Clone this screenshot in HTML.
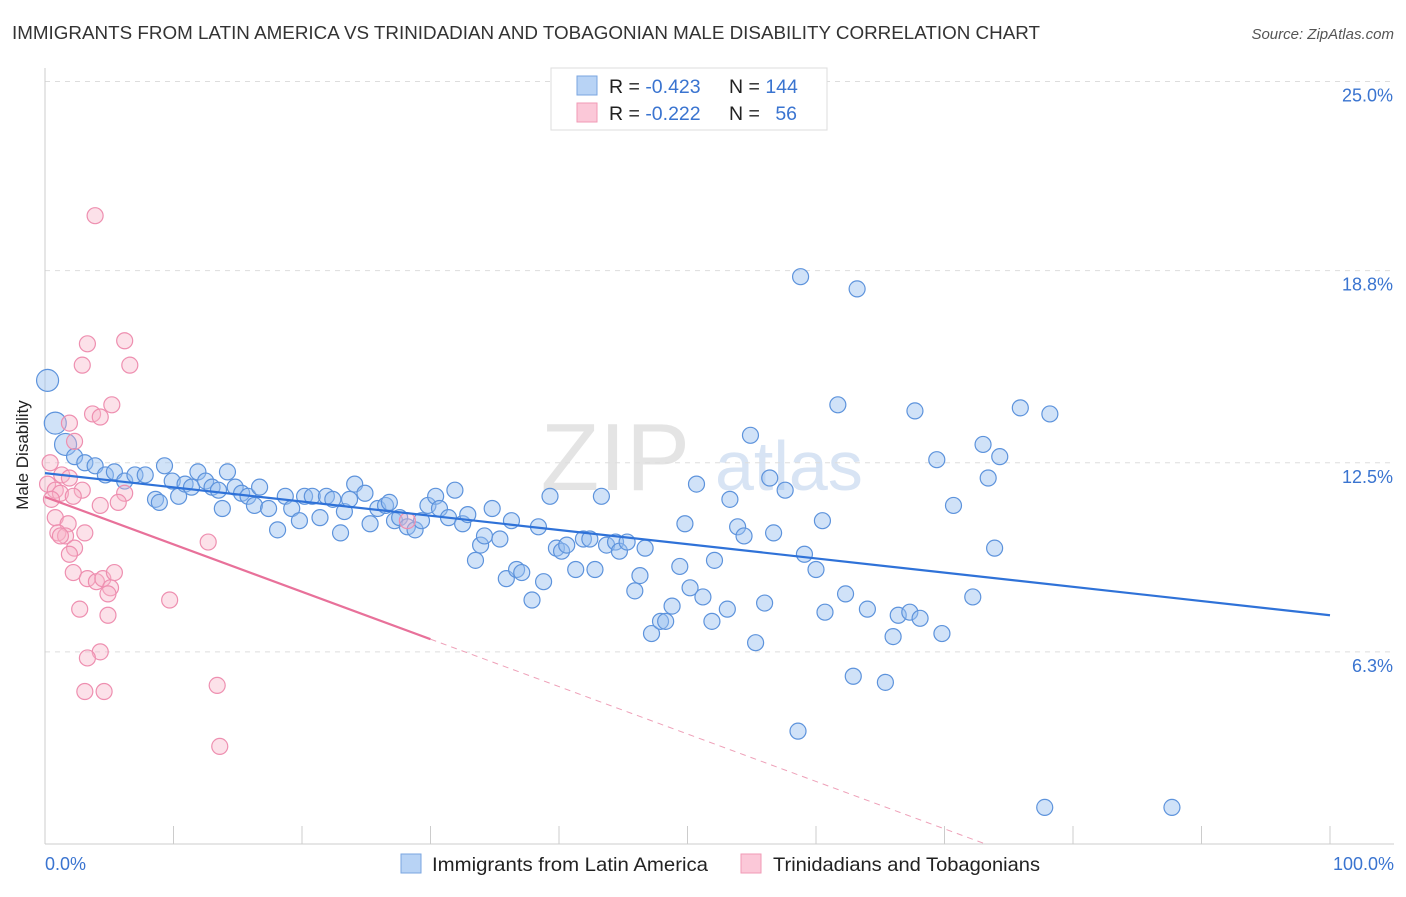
<!DOCTYPE html>
<html><head><meta charset="utf-8"><style>
body{margin:0;background:#fff;font-family:"Liberation Sans",sans-serif;}
svg text{font-family:"Liberation Sans",sans-serif;}
</style></head><body>
<svg id="chart" width="1406" height="892">
<text x="12" y="39" font-size="18.5" fill="#333" textLength="1028" lengthAdjust="spacingAndGlyphs">IMMIGRANTS FROM LATIN AMERICA VS TRINIDADIAN AND TOBAGONIAN MALE DISABILITY CORRELATION CHART</text>
<text x="1394" y="39" font-size="15" fill="#555" font-style="italic" text-anchor="end">Source: ZipAtlas.com</text>
<text x="690" y="490" font-size="96" fill="#e4e4e4" text-anchor="end" font-family="Liberation Serif">ZIP</text>
<text x="715" y="490" font-size="70" fill="#d8e4f4">atlas</text>
<g id="grid"></g><g id="axes"></g><g id="marks"></g>
<text x="28" y="455" font-size="17" fill="#222" transform="rotate(-90 28 455)" text-anchor="middle">Male Disability</text>
<text x="45" y="870" font-size="18" fill="#3a74d0">0.0%</text>
<text x="1394" y="870" font-size="18" fill="#3a74d0" text-anchor="end">100.0%</text>
<g>
<rect x="551" y="68" width="276" height="62" fill="#fff" stroke="#ddd"/>
<rect x="577" y="76" width="20" height="19" fill="#b8d3f5" stroke="#7aa6e0"/>
<rect x="577" y="103" width="20" height="19" fill="#fbc8d8" stroke="#f09ab6"/>
<text x="609" y="93" font-size="19.5" fill="#222">R = <tspan fill="#3a74d0">-0.423</tspan></text>
<text x="729" y="93" font-size="19.5" fill="#222">N = <tspan fill="#3a74d0">144</tspan></text>
<text x="609" y="120" font-size="19.5" fill="#222">R = <tspan fill="#3a74d0">-0.222</tspan></text>
<text x="729" y="120" font-size="19.5" fill="#222">N = <tspan fill="#3a74d0" dx="10">56</tspan></text>
</g>
<g>
<rect x="401" y="854" width="20" height="19" fill="#b8d3f5" stroke="#7aa6e0"/>
<text x="432" y="871" font-size="19.5" fill="#222" textLength="276" lengthAdjust="spacingAndGlyphs">Immigrants from Latin America</text>
<rect x="741" y="854" width="20" height="19" fill="#fbc8d8" stroke="#f09ab6"/>
<text x="773" y="871" font-size="19.5" fill="#222" textLength="267" lengthAdjust="spacingAndGlyphs">Trinidadians and Tobagonians</text>
</g>
</svg>
<script>
const yTicks=[6.3,12.5,18.8,25.0];
const yTickLabels=["6.3%","12.5%","18.8%","25.0%"];
const blueX=[0.2,0.8,1.6,2.3,3.1,3.9,4.7,5.4,6.2,7.0,7.8,8.6,8.9,9.3,9.9,10.4,10.9,11.4,11.9,12.5,13.0,13.5,13.8,14.2,14.8,15.3,15.8,16.3,16.7,17.4,18.1,18.7,19.2,19.8,20.2,20.8,21.4,21.9,22.4,23.0,23.3,23.7,24.1,24.9,25.3,25.9,26.5,26.8,27.2,27.6,28.2,28.8,29.3,29.8,30.4,30.7,31.4,31.9,32.5,32.9,33.5,33.9,34.2,34.8,35.4,35.9,36.3,36.7,37.1,37.9,38.4,38.8,39.3,39.8,40.2,40.6,41.3,41.9,42.4,42.8,43.3,43.7,44.4,44.7,45.3,45.9,46.3,46.7,47.2,47.9,48.3,48.8,49.4,49.8,50.2,50.7,51.2,51.9,52.1,53.1,53.3,53.9,54.4,54.9,55.3,56.0,56.4,56.7,57.6,58.6,58.8,59.1,60.0,60.5,60.7,61.7,62.3,62.9,63.2,64.0,65.4,66.0,66.4,67.3,67.7,68.1,69.4,69.8,70.7,72.2,73.0,73.4,73.9,74.3,75.9,77.8,78.2,87.7];
const blueY=[15.2,13.8,13.1,12.7,12.5,12.4,12.1,12.2,11.9,12.1,12.1,11.3,11.2,12.4,11.9,11.4,11.8,11.7,12.2,11.9,11.7,11.6,11.0,12.2,11.7,11.5,11.4,11.1,11.7,11.0,10.3,11.4,11.0,10.6,11.4,11.4,10.7,11.4,11.3,10.2,10.9,11.3,11.8,11.5,10.5,11.0,11.1,11.2,10.6,10.7,10.4,10.3,10.6,11.1,11.4,11.0,10.7,11.6,10.5,10.8,9.3,9.8,10.1,11.0,10.0,8.7,10.6,9.0,8.9,8.0,10.4,8.6,11.4,9.7,9.6,9.8,9.0,10.0,10.0,9.0,11.4,9.8,9.9,9.6,9.9,8.3,8.8,9.7,6.9,7.3,7.3,7.8,9.1,10.5,8.4,11.8,8.1,7.3,9.3,7.7,11.3,10.4,10.1,13.4,6.6,7.9,12.0,10.2,11.6,3.7,18.6,9.5,9.0,10.6,7.6,14.4,8.2,5.5,18.2,7.7,5.3,6.8,7.5,7.6,14.2,7.4,12.6,6.9,11.1,8.1,13.1,12.0,9.7,12.7,14.3,1.2,14.1,1.2];
const pinkX=[3.9,6.2,3.3,6.6,2.9,5.2,3.7,4.3,1.9,2.3,0.4,1.3,1.9,0.2,0.8,1.2,0.5,2.9,2.2,6.2,5.7,4.3,0.8,1.8,1.0,1.6,3.1,1.2,2.3,1.9,12.7,2.2,3.3,4.0,4.5,5.4,5.1,4.9,9.7,2.7,4.9,4.3,3.3,3.1,4.6,13.4,13.6,28.2];
const pinkY=[20.6,16.5,16.4,15.7,15.7,14.4,14.1,14.0,13.8,13.2,12.5,12.1,12.0,11.8,11.6,11.5,11.3,11.6,11.4,11.5,11.2,11.1,10.7,10.5,10.2,10.1,10.2,10.1,9.7,9.5,9.9,8.9,8.7,8.6,8.7,8.9,8.4,8.2,8.0,7.7,7.5,6.3,6.1,5.0,5.0,5.2,3.2,10.6];
const blueTrend=[12.16,7.5];
const pinkTrend=[11.38,0.03];
const pinkSolidEnd=30;
const pinkDashEnd=73;
const NS="http://www.w3.org/2000/svg";
const xs=v=>45+v*12.85, ys=v=>844-v*30.5;
function mk(tag,attrs,parent){const e=document.createElementNS(NS,tag);for(const k in attrs)e.setAttribute(k,attrs[k]);document.getElementById(parent).appendChild(e);return e;}
yTicks.forEach((t,i)=>{
 const g=mk('line',{x1:45,x2:1394,y1:ys(t),y2:ys(t),stroke:'#ddd','stroke-dasharray':'5,5'},'grid');
 
 
 const tx=mk('text',{x:1393,y:ys(t)+20,'font-size':18,fill:'#3a74d0','text-anchor':'end'},'grid');
 tx.textContent=yTickLabels[i];
 
 
});
const ax=mk('line',{x1:45,x2:45,y1:68,y2:844,stroke:'#ccc'},'axes');


const bx=mk('line',{x1:45,x2:1394,y1:844,y2:844,stroke:'#ccc'},'axes');


for(let i=0;i<=10;i++){
 const t=mk('line',{x1:xs(i*10),x2:xs(i*10),y1:826,y2:844,stroke:'#ccc'},'axes');
 
 
}
blueX.forEach((x,i)=>{
 const big=i<3;
 const c=mk('circle',{cx:xs(x),cy:ys(blueY[i]),r:big?11:8,fill:'rgba(150,190,240,0.45)',stroke:'#5d93dc','stroke-width':1.2},'marks');
 
 
});
pinkX.forEach((x,i)=>{
 const c=mk('circle',{cx:xs(x),cy:ys(pinkY[i]),r:8,fill:'rgba(248,180,200,0.4)',stroke:'#ee8fb0','stroke-width':1.2},'marks');
 
 
});
const bl=mk('line',{x1:xs(0),x2:xs(100),y1:ys(blueTrend[0]),y2:ys(blueTrend[1]),stroke:'#2f72d8','stroke-width':2.2},'marks');


const pv=x=>pinkTrend[0]+(pinkTrend[1]-pinkTrend[0])*x/pinkDashEnd;
const pl=mk('line',{x1:xs(0),x2:xs(pinkSolidEnd),y1:ys(pinkTrend[0]),y2:ys(pv(pinkSolidEnd)),stroke:'#e8719a','stroke-width':2.2},'marks');


const pd=mk('line',{x1:xs(pinkSolidEnd),x2:xs(pinkDashEnd),y1:ys(pv(pinkSolidEnd)),y2:ys(pinkTrend[1]),stroke:'#eea0b8','stroke-width':1,'stroke-dasharray':'6,5'},'marks');


</script>
</body></html>
